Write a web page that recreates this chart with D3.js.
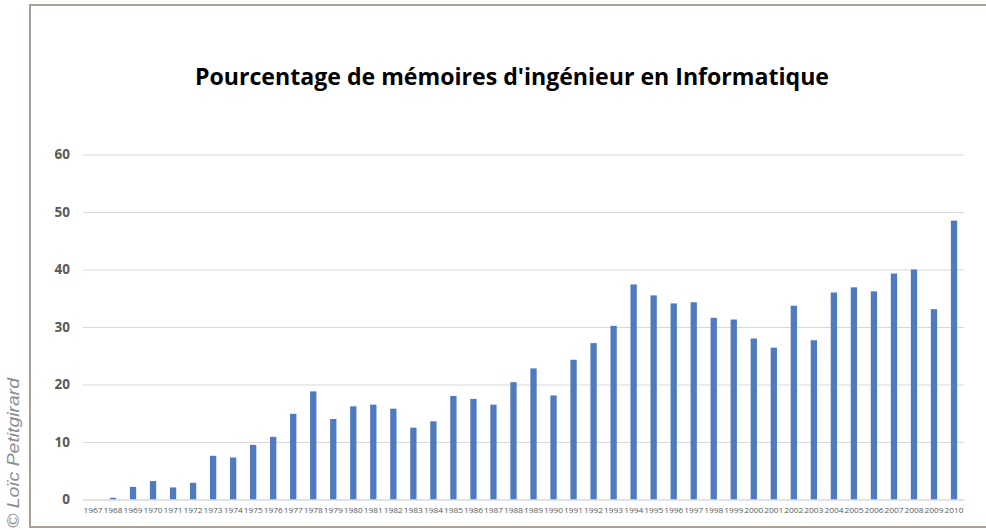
<!DOCTYPE html>
<html><head><meta charset="utf-8">
<script src="https://cdn.jsdelivr.net/npm/d3@7/dist/d3.min.js"></script>
<style>
html,body{margin:0;padding:0;background:#fff;}
svg{display:block;}
</style></head>
<body>
<svg id="chart" width="986" height="530"></svg>
<script>
const years = [1967,1968,1969,1970,1971,1972,1973,1974,1975,1976,1977,1978,1979,1980,1981,1982,1983,1984,1985,1986,1987,1988,1989,1990,1991,1992,1993,1994,1995,1996,1997,1998,1999,2000,2001,2002,2003,2004,2005,2006,2007,2008,2009,2010];
const values = [0,0.3,2.2,3.2,2.1,2.9,7.6,7.3,9.5,10.9,14.9,18.8,14.0,16.2,16.5,15.8,12.5,13.6,18.0,17.5,16.5,20.4,22.8,18.1,24.3,27.2,30.2,37.4,35.5,34.1,34.3,31.6,31.3,28.0,26.4,33.7,27.7,36.0,36.9,36.2,39.3,40.0,33.1,48.5];
const yTicks = [0,10,20,30,40,50,60];
const title = "Pourcentage de mémoires d'ingénieur en Informatique";
const credit = "© Loïc Petitgirard";

const svg = d3.select("#chart");
const mLeft = 83, mRight = 964, mTop = 154.5, mBottom = 499.5;

const x = d3.scaleBand().domain(years).range([mLeft, mRight]).paddingInner(0.685).paddingOuter(0.34);
const y = d3.scaleLinear().domain([0, 60]).range([mBottom, mTop]);

// frame
svg.append("path").attr("d", `M987,5 H30 V527 H987`).attr("fill","none").attr("stroke","#a89f97").attr("stroke-width",2);

// title
svg.append("text").attr("x", 512).attr("y", 85).attr("text-anchor","middle")
  .attr("font-family","'Open Sans', 'Noto Sans', sans-serif").attr("font-weight","bold")
  .attr("font-size", 23).attr("fill","#000")
  .attr("textLength", 634).attr("lengthAdjust","spacingAndGlyphs")
  .text(title);

// gridlines
const yAxis = d3.axisLeft(y).tickValues(yTicks).tickSize(-(mRight-mLeft)).tickPadding(13);
const gy = svg.append("g").attr("transform", `translate(${mLeft},0)`).call(yAxis);
gy.select(".domain").remove();
gy.selectAll(".tick line").attr("stroke","#d9d9d9").attr("stroke-width",1);
gy.selectAll(".tick text").attr("font-family","'Open Sans', 'Noto Sans', sans-serif")
  .attr("font-weight","bold").attr("font-size",13.5).attr("fill","#595959");

// bars
svg.append("g").selectAll("rect").data(years).join("rect")
  .attr("x", d => x(d))
  .attr("width", x.bandwidth())
  .attr("y", (d,i) => y(values[i]))
  .attr("height", (d,i) => y(0) - y(values[i]))
  .attr("fill", "#4f7bbe");

// x axis
const xAxis = d3.axisBottom(x).tickSize(0).tickPadding(8);
const gx = svg.append("g").attr("transform", `translate(0,${mBottom})`).call(xAxis);
gx.select(".domain").attr("stroke","#d9d9d9");
gx.selectAll(".tick text").attr("font-family","'Open Sans', 'Noto Sans', sans-serif")
  .attr("font-size",8).attr("fill","#595959")
  .attr("textLength", 19).attr("lengthAdjust","spacingAndGlyphs");

// credit
svg.append("text").attr("transform","translate(19,528) rotate(-90)")
  .attr("x", 0).attr("y", 0).attr("text-anchor","start")
  .attr("font-family","'Liberation Sans', Arial, sans-serif").attr("font-style","italic")
  .attr("font-size",16).attr("fill","#8c8c8c")
  .attr("textLength", 150).attr("lengthAdjust","spacingAndGlyphs")
  .text(credit);
</script>
</body></html>
